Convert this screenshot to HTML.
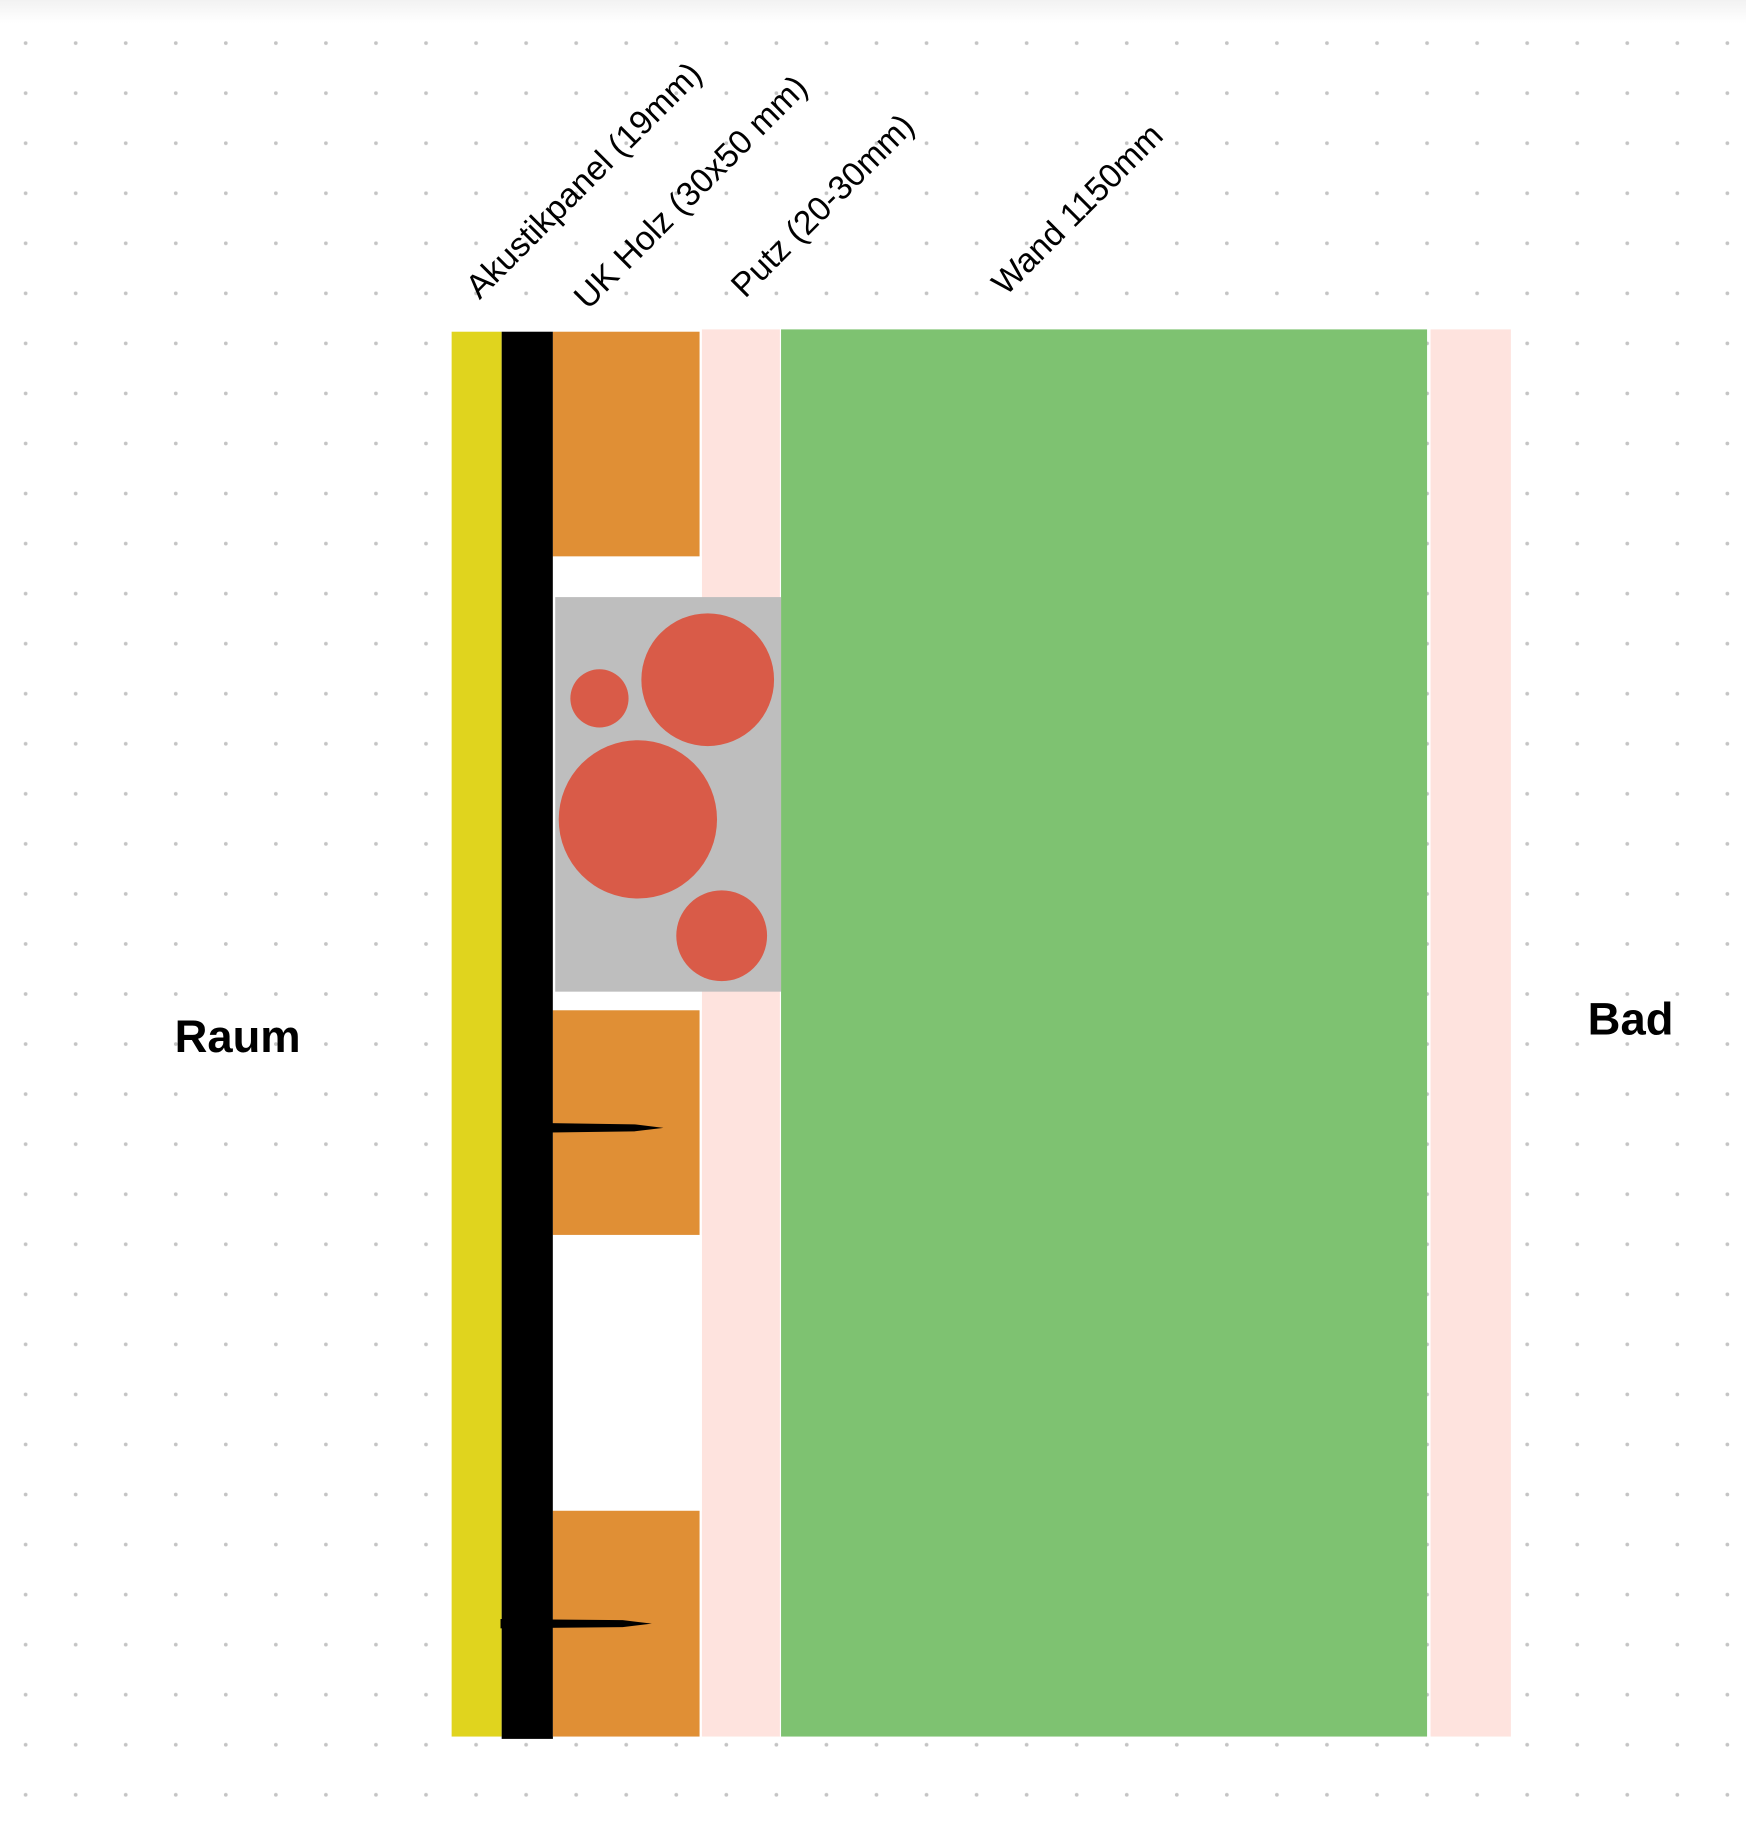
<!DOCTYPE html>
<html><head><meta charset="utf-8"><style>html,body{margin:0;padding:0;background:#fff}svg{display:block}</style></head>
<body>
<svg width="1746" height="1832" viewBox="0 0 1500 1574" preserveAspectRatio="none" xmlns="http://www.w3.org/2000/svg">
<defs>
<pattern id="dots" x="0" y="0" width="43" height="43" patternUnits="userSpaceOnUse">
<circle cx="22" cy="37" r="1.6" fill="#c4c4c4"/>
</pattern>
<linearGradient id="sh" x1="0" y1="0" x2="0" y2="1"><stop offset="0" stop-color="#f2f2f2"/><stop offset="1" stop-color="#fff"/></linearGradient>
</defs>
<rect width="1500" height="1574" fill="#fff"/>
<rect width="1500" height="20" fill="url(#sh)"/>
<rect width="1500" height="1574" fill="url(#dots)"/>
<rect x="388" y="285" width="43" height="1207" fill="#e0d41e"/>
<rect x="431" y="285" width="44" height="1209" fill="#000"/>
<rect x="603" y="283" width="67" height="1209" fill="#fee3de"/>
<rect x="475" y="478" width="128" height="390" fill="#fff"/>
<rect x="475" y="1061" width="128" height="237" fill="#fff"/>
<rect x="475" y="285" width="126" height="193" fill="#e08f35"/>
<rect x="475" y="868" width="126" height="193" fill="#e08f35"/>
<rect x="475" y="1298" width="126" height="194" fill="#e08f35"/>
<rect x="671" y="283" width="555" height="1209" fill="#7ec271"/>
<rect x="1229" y="283" width="69" height="1209" fill="#fee3de"/>
<rect x="477" y="513" width="194" height="339" fill="#bebebe"/>
<g fill="#d95b48">
<ellipse cx="515" cy="600" rx="25" ry="25"/>
<ellipse cx="608" cy="584" rx="57" ry="57"/>
<ellipse cx="548" cy="704" rx="68" ry="68"/>
<ellipse cx="620" cy="804" rx="39" ry="39"/>
</g>
<path d="M473 965 L545 966 L570 969 L545 972 L473 973 Z" fill="#000"/>
<path d="M430 1391 L535 1392 L560 1395 L535 1398 L430 1399 Z" fill="#000"/>
<g font-family="Liberation Sans, sans-serif" font-size="29" fill="#000">
<text transform="translate(412,258) rotate(-45)">Akustikpanel (19mm)</text>
<text transform="translate(505,267) rotate(-45)">UK Holz (30x50 mm)</text>
<text transform="translate(640,257) rotate(-45)">Putz (20-30mm)</text>
<text transform="translate(864,255) rotate(-45)">Wand 1150mm</text>
</g>
<g font-family="Liberation Sans, sans-serif" font-size="39" font-weight="bold" fill="#000">
<text x="150" y="904">Raum</text>
<text x="1364" y="889">Bad</text>
</g>
</svg>
</body></html>
